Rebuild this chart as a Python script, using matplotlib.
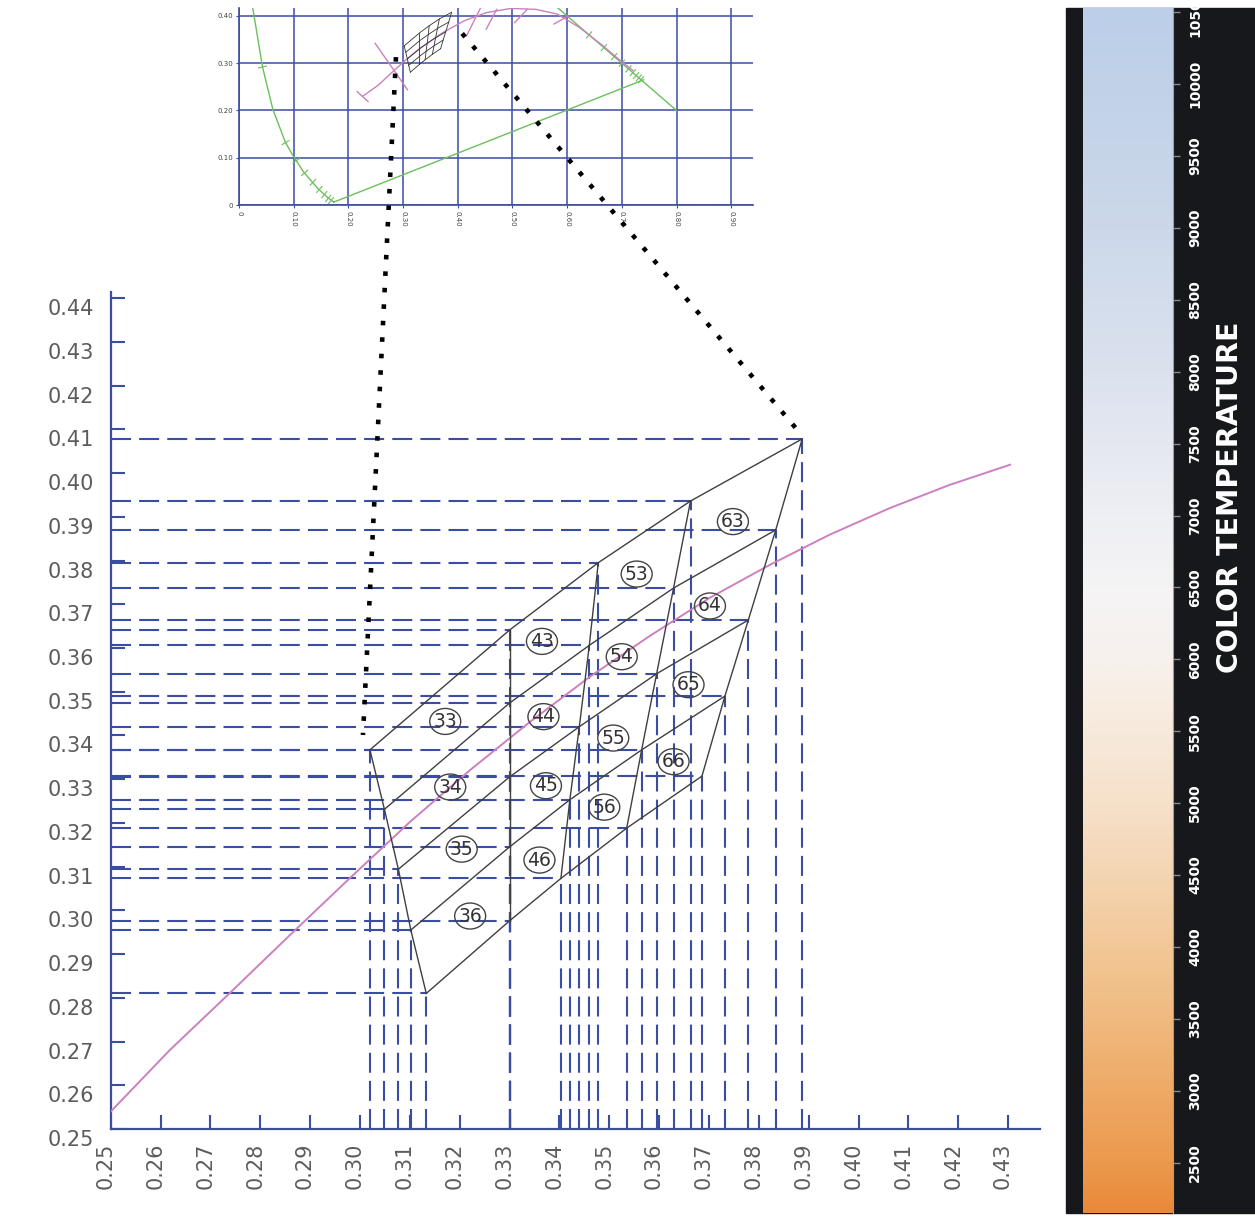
import numpy as np
import matplotlib.pyplot as plt
import matplotlib.transforms as mtransforms
from matplotlib.lines import Line2D
from matplotlib.patches import Rectangle, Ellipse
from matplotlib.colors import LinearSegmentedColormap

# ============================================================
# Data
# ============================================================

# corner points of the bin grid, one list per (near-vertical) boundary line
line_a_x = [0.3020, 0.3049, 0.3077, 0.3102, 0.3133]
line_a_y = [0.3367, 0.3231, 0.3094, 0.2955, 0.2810]
line_b_x = [0.3300, 0.3300, 0.3300, 0.3300, 0.3300]
line_b_y = [0.3641, 0.3474, 0.3305, 0.3145, 0.2976]
line_c_x = [0.3478, 0.3460, 0.3440, 0.3421, 0.3403]
line_c_y = [0.3795, 0.3606, 0.3420, 0.3253, 0.3073]
line_d_x = [0.3663, 0.3629, 0.3595, 0.3565, 0.3535]
line_d_y = [0.3936, 0.3737, 0.3541, 0.3367, 0.3188]
line_e_x = [0.3887, 0.3834, 0.3779, 0.3732, 0.3686]
line_e_y = [0.4078, 0.3870, 0.3664, 0.3490, 0.3307]

bin_names = ["33", "34", "35", "36", "43", "44", "45", "46",
             "53", "54", "55", "56", "63", "64", "65", "66"]
bin_label_x = [0.3171, 0.3181, 0.3204, 0.3221, 0.3365, 0.3368, 0.3373, 0.3360,
               0.3555, 0.3525, 0.3508, 0.3490, 0.3748, 0.3702, 0.3659, 0.3629]
bin_label_y = [0.3432, 0.3282, 0.3140, 0.2987, 0.3615, 0.3443, 0.3285, 0.3115,
               0.3769, 0.3580, 0.3394, 0.3236, 0.3889, 0.3696, 0.3516, 0.3340]

# black body curve in the main chart
bbl_x = [0.2501, 0.2619, 0.2739, 0.2860, 0.2980, 0.3100, 0.3221, 0.3341,
         0.3461, 0.3582, 0.3702, 0.3822, 0.3942, 0.4063, 0.4183, 0.4304]
bbl_y = [0.2541, 0.2681, 0.2811, 0.2944, 0.3074, 0.3202, 0.3321, 0.3431,
         0.3534, 0.3628, 0.3715, 0.3790, 0.3859, 0.3920, 0.3973, 0.4019]

# inset: spectral locus (green) and black body curve (pink)
locus_left_x = [0.025, 0.043, 0.062, 0.085, 0.099, 0.118, 0.144, 0.160, 0.173]
locus_left_y = [0.418, 0.292, 0.202, 0.132, 0.104, 0.070, 0.035, 0.018, 0.006]
purple_x = [0.173, 0.740]
purple_y = [0.006, 0.265]
locus_right_x = [0.580, 0.740, 0.800]
locus_right_y = [0.420, 0.260, 0.200]
wl_tick_x = [0.043, 0.085, 0.105, 0.120, 0.135, 0.147, 0.156, 0.163, 0.168,
             0.640, 0.667, 0.686, 0.700, 0.712, 0.720, 0.726, 0.731, 0.735]
wl_tick_y = [0.292, 0.132, 0.094, 0.068, 0.048, 0.033, 0.022, 0.014, 0.009,
             0.360, 0.333, 0.314, 0.300, 0.288, 0.280, 0.274, 0.269, 0.265]

inset_bbl_x = [0.226, 0.255, 0.281, 0.304, 0.334, 0.373, 0.412, 0.452, 0.497,
               0.543, 0.582, 0.622, 0.661, 0.700, 0.720]
inset_bbl_y = [0.230, 0.254, 0.282, 0.306, 0.334, 0.365, 0.390, 0.407, 0.416,
               0.414, 0.404, 0.376, 0.341, 0.303, 0.285]
# isotherm marks across the pink curve: x0, y0, x1, y1
iso_x0 = [0.249, 0.216, 0.416, 0.452, 0.504, 0.576]
iso_y0 = [0.342, 0.240, 0.358, 0.372, 0.386, 0.383]
iso_x1 = [0.308, 0.236, 0.442, 0.471, 0.527, 0.602]
iso_y1 = [0.244, 0.219, 0.418, 0.414, 0.414, 0.400]

# zoom connectors: (inset point) -> (main chart point)
conn_inset = [(0.287, 0.313), (0.408, 0.363)]
conn_main = [(0.3006, 0.3401), (0.3877, 0.4099)]

# colour temperature bar
cct_ticks = list(range(2500, 11000, 500))
cct_stops = [2150, 2500, 3000, 3500, 4000, 4500, 5000, 5500, 6000,
             6500, 7000, 7500, 8000, 9000, 10000, 10530]
cct_colors = ["#e9893a", "#ec9a4e", "#eeaa66", "#f0ba80", "#f2c898", "#f4d5b2",
              "#f6e1ca", "#f7eadc", "#f7f1ed", "#f5f4f5", "#eeeff4", "#e5e8f1",
              "#dbe2ee", "#ccd8ea", "#c1d2e8", "#bccfe8"]

main_xticks = [0.25, 0.26, 0.27, 0.28, 0.29, 0.30, 0.31, 0.32, 0.33, 0.34,
               0.35, 0.36, 0.37, 0.38, 0.39, 0.40, 0.41, 0.42, 0.43]
main_yticks = [0.25, 0.26, 0.27, 0.28, 0.29, 0.30, 0.31, 0.32, 0.33, 0.34,
               0.35, 0.36, 0.37, 0.38, 0.39, 0.40, 0.41, 0.42, 0.43, 0.44]

# ============================================================
# Style
# ============================================================

BLUE = "#3b4ca3"
GRAY_TXT = "#5c5c5c"
QUAD = "#3f3f3f"
PINK = "#cc80c0"
GREEN = "#6cbf5c"

plt.rcParams["font.family"] = ["DejaVu Sans"]

fig = plt.figure(figsize=(12.55, 12.18), dpi=100)
W, H = 1255.0, 1218.0

lines_x = [line_a_x, line_b_x, line_c_x, line_d_x, line_e_x]
lines_y = [line_a_y, line_b_y, line_c_y, line_d_y, line_e_y]

# ============================================================
# Main chart
# ============================================================

ax = fig.add_axes([110.7 / W, 1 - 1129 / H, 929.3 / W, 837 / H])
ax.set_xlim(0.25, 0.4364)
ax.set_ylim(0.25, 0.4414)
for s in ["top", "right"]:
    ax.spines[s].set_visible(False)
for s in ["left", "bottom"]:
    ax.spines[s].set_color(BLUE)
    ax.spines[s].set_linewidth(1.6)

ax.set_xticks(main_xticks)
ax.set_xticklabels([f"{v:.2f}" for v in main_xticks], rotation=90)
ax.set_yticks(main_yticks)
ax.set_yticklabels([f"{v:.2f}" for v in main_yticks])
ax.tick_params(direction="in", length=10, width=1.5, color=BLUE,
               labelcolor=GRAY_TXT, labelsize=15)
ax.tick_params(axis="y", pad=12)
ax.tick_params(axis="x", pad=10)

# labels sit a little below / left of their ticks in the original
for lab in ax.get_yticklabels():
    lab.set_transform(lab.get_transform() +
                      mtransforms.ScaledTranslation(0, -0.09, fig.dpi_scale_trans))
for lab in ax.get_xticklabels():
    lab.set_transform(lab.get_transform() +
                      mtransforms.ScaledTranslation(-0.05, 0, fig.dpi_scale_trans))

# dashed projection lines from every corner to both axes
for xs, ys in zip(lines_x, lines_y):
    for vx, vy in zip(xs, ys):
        ax.plot([0.25, vx], [vy, vy], color=BLUE, lw=1.5, dashes=(9.6, 3.9), zorder=2)
        ax.plot([vx, vx], [0.25, vy], color=BLUE, lw=1.5, dashes=(9.6, 3.9), zorder=2)

# black body curve
ax.plot(bbl_x, bbl_y, color=PINK, lw=1.4, zorder=3)

# bin grid
for xs, ys in zip(lines_x, lines_y):
    ax.plot(xs, ys, color=QUAD, lw=1.0, zorder=4)
for i in range(5):
    ax.plot([xs[i] for xs in lines_x], [ys[i] for ys in lines_y],
            color=QUAD, lw=1.0, zorder=4)

# circled bin numbers (ellipse size given in pixels)
px_x = 929.3 / (0.4364 - 0.25)
px_y = 837 / (0.4414 - 0.25)
for name, lx, ly in zip(bin_names, bin_label_x, bin_label_y):
    ax.add_patch(Ellipse((lx, ly), 31 / px_x, 26 / px_y, fc="none",
                         ec="#444444", lw=1.0, zorder=5))
    ax.text(lx, ly, name, ha="center", va="center", fontsize=13.5,
            color="#333333", zorder=5)

# ============================================================
# Inset: full chromaticity diagram
# ============================================================

axi = fig.add_axes([239 / W, 1 - 205 / H, 513.6 / W, 197.3 / H])
axi.set_xlim(0, 0.939)
axi.set_ylim(0, 0.4175)
for s in ["top", "right"]:
    axi.spines[s].set_visible(False)
for s in ["left", "bottom"]:
    axi.spines[s].set_color(BLUE)
    axi.spines[s].set_linewidth(1.2)
inset_x = [0, 0.1, 0.2, 0.3, 0.4, 0.5, 0.6, 0.7, 0.8, 0.9]
inset_y = [0, 0.1, 0.2, 0.3, 0.4]
axi.set_xticks(inset_x)
axi.set_xticklabels(["0"] + [f"{v:.2f}" for v in inset_x[1:]], rotation=270)
axi.set_yticks(inset_y)
axi.set_yticklabels(["0"] + [f"{v:.2f}" for v in inset_y[1:]])
axi.tick_params(length=2, width=0.8, color=BLUE, labelsize=5, labelcolor="#444444", pad=2)
axi.grid(True, color=BLUE, lw=1.1)
axi.set_axisbelow(True)

axi.plot(locus_left_x, locus_left_y, color=GREEN, lw=1.0)
axi.plot(purple_x, purple_y, color=GREEN, lw=1.0)
axi.plot(locus_right_x, locus_right_y, color=GREEN, lw=1.0)

# small wavelength marks across the locus
lx_all = np.array(locus_left_x + [np.nan] + locus_right_x)
ly_all = np.array(locus_left_y + [np.nan] + locus_right_y)
pts = axi.transData.transform(np.column_stack([lx_all, ly_all]))
for tx, ty in zip(wl_tick_x, wl_tick_y):
    p = axi.transData.transform((tx, ty))
    d = np.hypot(pts[:, 0] - p[0], pts[:, 1] - p[1])
    d[np.isnan(d)] = np.inf
    k = int(np.argmin(d))
    k2 = k + 1 if k + 1 < len(pts) and not np.isnan(pts[k + 1, 0]) else k - 1
    v = pts[k2] - pts[k]
    n = np.array([-v[1], v[0]]) / np.hypot(*v)
    seg = axi.transData.inverted().transform([p - 4 * n, p + 4 * n])
    axi.plot(seg[:, 0], seg[:, 1], color=GREEN, lw=0.8)

axi.plot(inset_bbl_x, inset_bbl_y, color=PINK, lw=1.0)
for x0, y0, x1, y1 in zip(iso_x0, iso_y0, iso_x1, iso_y1):
    axi.plot([x0, x1], [y0, y1], color=PINK, lw=1.0)

for xs, ys in zip(lines_x, lines_y):
    axi.plot(xs, ys, color="#333333", lw=0.6)
for i in range(5):
    axi.plot([xs[i] for xs in lines_x], [ys[i] for ys in lines_y],
             color="#333333", lw=0.6)

# ============================================================
# Dotted zoom connectors
# ============================================================

to_fig = fig.transFigure.inverted()
for pa, pb in zip(conn_inset, conn_main):
    a = to_fig.transform(axi.transData.transform(pa))
    b = to_fig.transform(ax.transData.transform(pb))
    fig.add_artist(Line2D([a[0], b[0]], [a[1], b[1]], transform=fig.transFigure,
                          color="black", lw=3.3, linestyle=(0, (1, 2.6)),
                          dash_capstyle="butt", zorder=20))

# ============================================================
# Colour temperature bar
# ============================================================

fig.add_artist(Rectangle((1066 / W, 1 - 1213 / H), 189 / W, 1205 / H,
                         transform=fig.transFigure, color="#17181b", zorder=0))

cct_cmap = LinearSegmentedColormap.from_list(
    "cct", list(zip([(t - cct_stops[0]) / (cct_stops[-1] - cct_stops[0]) for t in cct_stops],
                    cct_colors)))
axc = fig.add_axes([1083 / W, 1 - 1213 / H, 90 / W, 1205 / H])
grad = np.linspace(cct_stops[0], cct_stops[-1], 512)[:, None]
axc.imshow(grad, aspect="auto", cmap=cct_cmap, origin="lower",
           extent=[0, 1, cct_stops[0], cct_stops[-1]])
axc.set_xlim(0, 1)
axc.set_ylim(cct_stops[0], cct_stops[-1])
axc.set_xticks([])
axc.yaxis.tick_right()
axc.set_yticks(cct_ticks)
axc.set_yticklabels([str(t) for t in cct_ticks], rotation=90, va="center")
axc.tick_params(axis="y", length=5, width=1, color="#8a8a8a", labelcolor="white",
                labelsize=10, pad=6)
for lab in axc.get_yticklabels():
    lab.set_fontweight("bold")
for s in axc.spines.values():
    s.set_visible(False)
axc.spines["right"].set_visible(True)
axc.spines["right"].set_color("#9aa0aa")

fig.text(1230 / W, 1 - 497 / H, "COLOR TEMPERATURE", rotation=90, ha="center",
         va="center", color="white", fontsize=20.5, fontweight="bold")

fig.savefig("out.png", dpi=100)
